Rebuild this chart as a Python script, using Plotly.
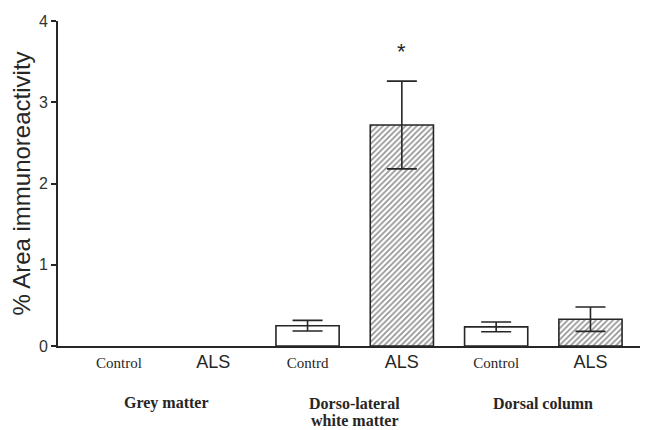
import plotly.graph_objects as go

# categories along the x axis (index positions 0..5)
tick_labels = ["Control", "ALS", "Contrd", "ALS", "Control", "ALS"]
groups = [["Grey matter"], ["Dorso-lateral", "white matter"], ["Dorsal column"]]

# mean % area immunoreactivity and SEM (grey matter had no measurable signal)
control_x = [0, 2, 4]
control_vals = [None, 0.25, 0.235]
control_err = [None, 0.065, 0.06]

als_x = [1, 3, 5]
als_vals = [None, 2.72, 0.33]
als_err = [None, 0.54, 0.15]

star_x = 3
star_y = 3.62

serif = "Liberation Serif"
sans = "Liberation Sans"
ink = "#262626"

fig = go.Figure()

fig.add_trace(go.Bar(
    x=control_x,
    y=control_vals,
    width=0.67,
    marker=dict(color="white", line=dict(color=ink, width=1.6)),
    error_y=dict(type="data", array=control_err, visible=True,
                 color=ink, thickness=1.6, width=15),
    showlegend=False,
))

fig.add_trace(go.Bar(
    x=als_x,
    y=als_vals,
    width=0.67,
    marker=dict(
        color="white",
        line=dict(color=ink, width=1.6),
        pattern=dict(shape="/", fgcolor="#222222", bgcolor="white",
                     size=4, solidity=0.4),
    ),
    error_y=dict(type="data", array=als_err, visible=True,
                 color=ink, thickness=1.6, width=15),
    showlegend=False,
))

# significance marker
fig.add_annotation(x=star_x, y=star_y, xref="x", yref="y", text="*",
                   showarrow=False, font=dict(family=sans, size=22, color=ink))

# group labels under the tick labels, one annotation per line
for i, lines in enumerate(groups):
    for j, line in enumerate(lines):
        fig.add_annotation(
            x=2 * i + 0.5, y=-0.176 - 0.052 * j, xref="x", yref="paper",
            text=f"<b>{line}</b>", showarrow=False, yanchor="middle",
            borderpad=0,
            font=dict(family=serif, size=16, color=ink),
        )

ticktext = []
for t in tick_labels:
    if t == "ALS":
        ticktext.append(f'<span style="font-family:{sans};font-size:18px">{t}</span>')
    else:
        ticktext.append(f'<span style="font-family:{serif};font-size:15px">{t}</span>')

# the page body adds an 8px offset, so the figure is sized to fit the window
fig.update_layout(
    width=640,
    height=422,
    margin=dict(l=50, r=0, t=13, b=84),
    plot_bgcolor="white",
    paper_bgcolor="white",
    barmode="overlay",
    font=dict(family=sans, color=ink),
)

fig.update_xaxes(
    range=[-0.646, 5.61],
    tickmode="array",
    tickvals=list(range(len(tick_labels))),
    ticktext=ticktext,
    ticks="outside",
    ticklen=6,
    tickcolor="rgba(0,0,0,0)",
    showline=True,
    linecolor=ink,
    linewidth=1.8,
    showgrid=False,
    zeroline=False,
    fixedrange=True,
)

fig.update_yaxes(
    range=[0, 4],
    tickvals=[0, 1, 2, 3, 4],
    ticks="outside",
    ticklen=5,
    tickwidth=1.5,
    tickcolor=ink,
    tickfont=dict(family=sans, size=16, color="#333333"),
    showline=True,
    linecolor=ink,
    linewidth=1.8,
    showgrid=False,
    zeroline=False,
    title=dict(text="% Area immunoreactivity",
               font=dict(family=sans, size=24, color=ink), standoff=7),
)

fig.write_html("out.html")
